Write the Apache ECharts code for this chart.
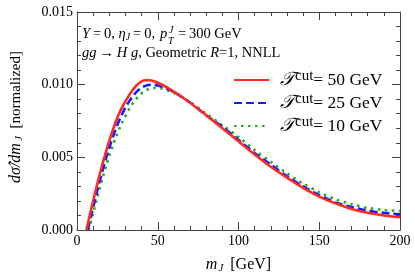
<!DOCTYPE html>
<html><head><meta charset="utf-8">
<script src="https://cdn.jsdelivr.net/npm/echarts@6/dist/echarts.min.js"></script>
<style>html,body{margin:0;padding:0;background:#fff}#c{width:415px;height:279px}</style>
</head><body><div id="c"></div>
<script>
// Data
const seriesNames = ['50', '25', '10'];
const redX  = [5.8, 8, 10, 12, 14, 16, 18, 20, 22, 24, 26, 28, 30, 33, 36, 39, 42, 45, 48, 52, 56, 60, 65, 70, 80, 90, 100, 110, 120, 130, 140, 150, 160, 170, 180, 190, 200];
const redY  = [0, 0.00105, 0.00200, 0.00292, 0.00380, 0.00463, 0.00541, 0.00614, 0.00682, 0.00745, 0.00800, 0.00846, 0.00885, 0.00940, 0.00985, 0.01015, 0.01030, 0.01030, 0.01022, 0.01003, 0.00980, 0.00952, 0.00915, 0.00875, 0.0079, 0.0070, 0.0061, 0.0052, 0.00435, 0.0036, 0.0029, 0.0023, 0.00183, 0.00145, 0.00118, 0.00100, 0.00088];
const blueX = [6.6, 9, 11, 13, 15, 17, 19, 21, 23, 25, 27, 29, 31, 34, 37, 40, 43, 46, 50, 55, 60, 65, 70, 80, 90, 100, 110, 120, 130, 140, 150, 160, 170, 180, 190, 200];
const blueY = [0, 0.00110, 0.00200, 0.00290, 0.00375, 0.00455, 0.00530, 0.00600, 0.00665, 0.00724, 0.00776, 0.00822, 0.00862, 0.00912, 0.00952, 0.00980, 0.00995, 0.01000, 0.00995, 0.00975, 0.00948, 0.00915, 0.00877, 0.0079, 0.0071, 0.0062, 0.0053, 0.0045, 0.0037, 0.0030, 0.0024, 0.0019, 0.00158, 0.00132, 0.00118, 0.00108];
const greenX = [7.3, 10, 12, 14, 16, 18, 20, 22, 24, 26, 28, 30, 33, 36, 39, 42, 45, 48, 52, 56, 60, 65, 70, 80, 90, 100, 110, 120, 130, 140, 150, 160, 170, 180, 190, 200];
const greenY = [0, 0.00115, 0.00200, 0.00285, 0.00365, 0.00440, 0.00510, 0.00575, 0.00635, 0.00690, 0.00740, 0.00785, 0.00845, 0.00893, 0.00930, 0.00957, 0.00972, 0.00978, 0.00975, 0.00962, 0.00942, 0.00912, 0.00880, 0.0080, 0.0072, 0.0064, 0.0055, 0.0047, 0.0039, 0.0032, 0.0026, 0.00212, 0.00178, 0.00152, 0.00138, 0.00130];
const xTicks = [0, 50, 100, 150, 200];
const yTicks = ['0.000', '0.005', '0.010', '0.015'];

const serif = '"Liberation Serif","DejaVu Serif",serif';
const axisCol = '#444';
const zip = (xs, ys) => xs.map((x, i) => [x, ys[i]]);

function xAx(pos, show) {
  return {
    type: 'value', position: pos, min: 0, max: 200, interval: 50,
    axisLine: { show: true, onZero: false, lineStyle: { color: axisCol, width: 1 } },
    axisTick: { show: true, inside: true, length: 8, lineStyle: { color: axisCol } },
    minorTick: { show: true, splitNumber: 5, length: 4, lineStyle: { color: axisCol } },
    splitLine: { show: false },
    axisLabel: { show: show, color: '#000', fontFamily: serif, fontSize: 14, margin: 4,
      formatter: v => xTicks.includes(v) ? String(v) : '' },
    name: show ? '{i|m}{s|J} [GeV]' : '', nameLocation: 'middle', nameGap: 26,
    nameTextStyle: { color: '#000', fontFamily: serif, fontSize: 16,
      rich: { i: { fontFamily: serif, fontStyle: 'italic', fontSize: 16, color: '#000' },
              s: { fontFamily: serif, fontStyle: 'italic', fontSize: 11, color: '#000', padding: [7, 3, 0, 1] } } }
  };
}
function yAx(pos, show) {
  return {
    type: 'value', position: pos, min: 0, max: 0.015, interval: 0.005,
    axisLine: { show: true, onZero: false, lineStyle: { color: axisCol, width: 1 } },
    axisTick: { show: true, inside: true, length: 8, lineStyle: { color: axisCol } },
    minorTick: { show: true, splitNumber: 5, length: 4, lineStyle: { color: axisCol } },
    splitLine: { show: false },
    axisLabel: { show: show, color: '#000', fontFamily: serif, fontSize: 14, margin: 4,
      formatter: v => yTicks[Math.round(v / 0.005)] },
    name: show ? '{i|dσ\u0302/dm}{s|J} [normalized]' : '', nameLocation: 'middle', nameGap: 52,
    nameTextStyle: { color: '#000', fontFamily: serif, fontSize: 15, padding: [0, 0, 0, 8],
      rich: { i: { fontFamily: serif, fontStyle: 'italic', fontSize: 16, color: '#000' },
              s: { fontFamily: serif, fontStyle: 'italic', fontSize: 11, color: '#000', padding: [7, 4, 0, 2] } } }
  };
}

const chart = echarts.init(document.getElementById('c'), null, { renderer: 'canvas' });
const richT = {
  t: { fontFamily: serif, fontStyle: 'italic', fontSize: 19, color: '#000', lineHeight: 22, padding: [0, 0, 0, 6] },
  s: { fontFamily: serif, fontSize: 15, color: '#000', lineHeight: 14, verticalAlign: 'top' },
  n: { fontFamily: serif, fontSize: 17.5, color: '#000', lineHeight: 22 }
};
const ann = { fontFamily: serif, fontSize: 14.5, fill: '#000' };
const annRich = {
  i: { fontFamily: serif, fontStyle: 'italic', fontSize: 14.5 },
  s: { fontFamily: serif, fontStyle: 'italic', fontSize: 10, padding: [6, 0, 0, 0] }
};
const small = { fontFamily: serif, fontStyle: 'italic', fontSize: 10, fill: '#000' };
chart.setOption({
  animation: false,
  grid: { left: 68, right: 15, top: 12, bottom: 47 },
  xAxis: [xAx('bottom', true), xAx('top', false)],
  yAxis: [yAx('left', true), yAx('right', false)],
  legend: {
    orient: 'vertical', left: 233, top: 69, padding: 0, itemGap: 2.5, itemWidth: 35, itemHeight: 14,
    data: seriesNames,
    itemStyle: { opacity: 0, borderWidth: 0 },
    formatter: n => '{t|𝒯}{s|cut}{n|= ' + n + ' GeV}',
    textStyle: { rich: richT }
  },
  series: [
    { name: seriesNames[0], type: 'line', data: zip(redX, redY), smooth: 0.3, symbol: 'none', z: 3,
      lineStyle: { color: '#ff2a1f', width: 2.6, type: 'solid' }, itemStyle: { color: '#ff2a1f' } },
    { name: seriesNames[1], type: 'line', data: zip(blueX, blueY), smooth: 0.3, symbol: 'none', z: 2,
      lineStyle: { color: '#1a1aff', width: 2.6, type: [8, 4] }, itemStyle: { color: '#1a1aff' } },
    { name: seriesNames[2], type: 'line', data: zip(greenX, greenY), smooth: 0.3, symbol: 'none', z: 1,
      lineStyle: { color: '#22b022', width: 2.6, type: [2.5, 4.5] }, itemStyle: { color: '#22b022' } }
  ],
  graphic: [
    { type: 'text', left: 82, top: 27, style: Object.assign({
      text: '{i|Y}\u2009=\u20090, {i|η}{s|J}\u2009=\u20090,', rich: annRich }, ann) },
    { type: 'text', left: 160, top: 27, style: Object.assign({ text: '{i|p}', rich: annRich }, ann) },
    { type: 'text', left: 169, top: 25, style: Object.assign({ text: 'J' }, small) },
    { type: 'text', left: 168, top: 36, style: Object.assign({ text: 'T' }, small) },
    { type: 'text', left: 175, top: 27, style: Object.assign({ text: '\u2009=\u2009300 GeV' }, ann) },
    { type: 'text', left: 82, top: 46, style: Object.assign({
      text: '{i|gg}\u2009→\u2009{i|H g}, Geometric {i|R}=1, NNLL', rich: annRich }, ann) }
  ]
});
</script></body></html>
